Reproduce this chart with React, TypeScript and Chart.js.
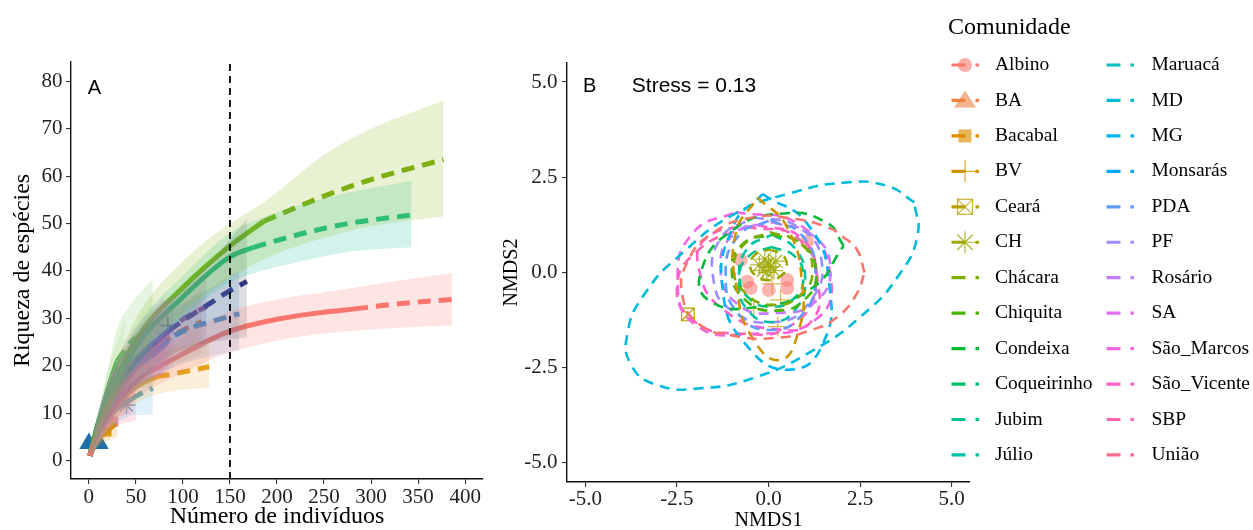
import React, { useEffect, useRef } from 'react';
import { Chart, registerables } from 'chart.js';
Chart.register(...registerables);

const SERIF = '"Liberation Serif", "Times New Roman", serif';
const SANS = '"Liberation Sans", Arial, sans-serif';

// ---------- shared categories ----------
const communities = ['Albino', 'BA', 'Bacabal', 'BV', 'Ceará', 'CH', 'Chácara', 'Chiquita', 'Condeixa', 'Coqueirinho', 'Jubim', 'Júlio',
  'Maruacá', 'MD', 'MG', 'Monsarás', 'PDA', 'PF', 'Rosário', 'SA', 'São_Marcos', 'São_Vicente', 'SBP', 'União'];
const legendShapes = ['circle', 'triangle', 'square', 'plus', 'boxx', 'asterisk'];
const legendTitle = 'Comunidade';

// ---------- panel A (rarefaction / extrapolation) ----------
const xTicksA = [0, 50, 100, 150, 200, 250, 300, 350, 400];
const yTicksA = [0, 10, 20, 30, 40, 50, 60, 70, 80];
const refLineX = 150;

const albX = [1, 10, 25, 50, 100, 150, 200, 250, 283, 330, 386];
const albY = [1, 6, 11, 16.5, 22.5, 27.3, 29.8, 31.3, 32, 33.1, 34];
const albLo = [1, 4, 8, 13, 18.5, 22.8, 25.3, 26.8, 27.4, 28, 28.5];
const albHi = [1, 8, 14, 20, 26.5, 31.5, 34, 35.5, 36.5, 38, 39.5];
const albObs = 283;

const chaX = [1, 10, 25, 50, 100, 150, 186, 250, 300, 377];
const chaY = [1, 7, 15, 25.5, 36.5, 45.3, 50.5, 55.8, 59.3, 63.5];
const chaLo = [1, 5, 12, 21, 31, 38.5, 42.5, 47, 49.5, 51.5];
const chaHi = [1, 9, 18, 30, 42, 50, 54.5, 64.5, 70, 76];
const chaObs = 186;

const coqX = [1, 10, 25, 50, 100, 150, 175, 225, 275, 343];
const coqY = [1, 7, 14.5, 24, 34.5, 43, 45, 47.8, 50, 51.8];
const coqLo = [1, 5, 11.5, 20, 30, 37.5, 39.5, 42, 44, 45];
const coqHi = [1, 9, 17.5, 28, 39, 48, 50.5, 54, 56.5, 59];
const coqObs = 175;

const navX = [1, 10, 25, 50, 85, 110, 130, 147, 168];
const navY = [1, 7, 14, 21, 27.5, 30.8, 33.3, 35.5, 37.8];
const navLo = [1, 5, 10, 16, 22, 24, 25, 25.5, 26];
const navHi = [1, 9, 18, 26, 33, 38, 42, 46, 51];
const navObs = 85;

const lbX = [1, 10, 25, 50, 75, 88, 109, 130, 160];
const lbY = [1, 6.5, 13, 19.5, 23.3, 25.9, 28, 29.3, 31];
const lbLo = [1, 4, 9, 15, 18, 19.5, 21, 22, 23.3];
const lbHi = [1, 9, 17, 24, 29, 31.5, 34, 36.5, 40];
const lbObs = 75;

const puX = [1, 10, 25, 50, 80, 100, 125];
const puY = [1, 7, 14, 21, 26.5, 29.8, 32.5];
const puLo = [1, 4.5, 10, 16, 20, 22, 24];
const puHi = [1, 9.5, 18, 26, 33, 36, 40];
const puObs = 80;

const orX = [1, 10, 25, 50, 72, 93, 128];
const orY = [1, 5.5, 10.5, 15.5, 17.7, 18.4, 19.8];
const orLo = [1, 3.5, 7.5, 12, 14, 14.8, 15.3];
const orHi = [1, 7.5, 13.5, 19.5, 22, 24, 25.4];
const orObs = 72;

const ruX = [1, 10, 25, 50, 75, 100, 120];
const ruY = [1, 6, 12.5, 19.5, 24.5, 27.5, 29.3];
const ruLo = [1, 4, 9, 15, 19, 21, 22.5];
const ruHi = [1, 8, 16, 24, 30, 33.5, 36];
const ruObs = 75;

const tlX = [1, 10, 25, 45, 55, 68];
const tlY = [1, 5, 10, 13, 14.1, 15.2];
const tlLo = [1, 3, 7, 9.5, 9.6, 9.7];
const tlHi = [1, 7, 13, 16.5, 18, 20];
const tlObs = 45;

const gsX = [1, 10, 20, 30, 45, 68];
const gsY = [1, 8, 15, 21, 25, 28.5];
const gsLo = [1, 6, 11, 14, 15, 15.5];
const gsHi = [1, 10, 19, 28, 33, 38.5];
const gsObs = 30;

const lgX = [1, 10, 20, 30, 38];
const lgY = [1, 8, 14.5, 18.5, 21];
const lgLo = [1, 6, 10, 12, 13];
const lgHi = [1, 10, 19, 25, 30];
const lgObs = 20;

const smX = [1, 10, 25, 45, 65, 75, 85];
const smY = [1, 7, 14, 20, 24, 25.3, 26.5];
const smLo = [1, 4.5, 9.5, 14, 17, 18, 19];
const smHi = [1, 9.5, 19, 26, 31, 33, 34.5];
const smObs = 65;

const saX = [1, 10, 25, 40, 60, 70, 80];
const saY = [1, 7.5, 14.5, 19.5, 23.5, 25, 26.3];
const saLo = [1, 5, 10, 14, 17, 17.5, 18];
const saHi = [1, 10, 19, 25.5, 30.5, 32.5, 34.5];
const saObs = 60;

const unX = [1, 8, 20, 30, 40, 50];
const unY = [1, 5, 9, 11, 12.5, 13.7];
const unLo = [1, 3, 6, 7.5, 8, 8.5];
const unHi = [1, 7, 12, 15, 17, 19];
const unObs = 30;

const sbX = [1, 10, 20, 28, 36, 45];
const sbY = [1, 6, 10.5, 13, 14.3, 15.5];
const sbLo = [1, 4, 7, 9, 9.5, 10];
const sbHi = [1, 8, 14, 17, 19, 21.5];
const sbObs = 28;

const roX = [1, 10, 25, 50, 70, 80, 90];
const roY = [1, 7, 14, 21, 25, 26.3, 27.3];
const roLo = [1, 4.5, 9.5, 15.5, 18.5, 19, 19.5];
const roHi = [1, 9.5, 18.5, 26.5, 31.5, 33.5, 35];
const roObs = 70;

const bcX = [1, 8, 18, 24, 30];
const bcY = [1, 4, 6, 7, 8];
const bcLo = [1, 2.5, 4, 4.5, 5];
const bcHi = [1, 5.5, 8, 9.5, 11];
const bcObs = 18;

const triA = [[0, 3.6], [11, 3.6]];
const plusA = [[84, 28.5]];
const starA = [[40, 11.7]];
const orangeSqA = [[18.8, 6.1]];
const pinkSqA = [[26, 8.2]];
const pinkXA = [[76, 26.5]];

// ---------- panel B (NMDS) ----------
const nmdsTicks = [-5, -2.5, 0, 2.5, 5];
const stressLabel = 'Stress = 0.13';

const ellAlbino = [[2.62, 0.0], [2.42, 0.59], [2.04, 0.93], [1.6, 1.19], [0.6, 1.42], [-0.4, 1.45], [-1.5, 1.05], [-2.2, 0.3], [-2.35, -0.6],
  [-1.9, -1.35], [-1.0, -1.65], [0.15, -1.72], [1.2, -1.5], [1.9, -1.15], [2.42, -0.54]];
const ellBV = [[-0.3, 1.97], [0.5, 1.2], [0.92, -0.3], [0.8, -1.6], [0.3, -2.3], [-0.45, -1.7], [-0.85, -0.5], [-0.9, 1.0]];
const ellCH = [[0, 0.6], [0.35, 0.48], [0.5, 0.2], [0.35, -0.08], [0, -0.2], [-0.35, -0.08], [-0.5, 0.2], [-0.35, 0.48]];
const ellChacara = [[0.05, 1.06], [0.87, 0.77], [1.2, 0.07], [0.87, -0.59], [0.11, -0.85], [-0.63, -0.54], [-0.95, 0.12], [-0.63, 0.77]];
const ellChiquita = [[0.1, 1.0], [0.9, 0.75], [1.3, 0.0], [1.0, -0.7], [0.2, -1.0], [-0.6, -0.75], [-1.0, 0.0], [-0.7, 0.75]];
const ellCondeixa = [[2.05, 0.7], [1.6, 1.3], [0.4, 1.55], [-1.0, 1.1], [-1.85, 0.0], [-1.6, -0.75], [-0.3, -0.9], [1.2, -0.4]];
const ellJubim = [[0.08, 0.67], [0.71, 0.43], [0.95, -0.12], [0.71, -0.67], [0.08, -0.9], [-0.54, -0.67], [-0.79, -0.12], [-0.54, 0.43]];
const ellJulio = [[0.1, 1.0], [0.75, 0.6], [1.0, -0.2], [0.75, -0.95], [0.1, -1.3], [-0.6, -0.95], [-0.8, -0.2], [-0.6, 0.6]];
const ellMD = [[3.98, 1.84], [3.25, 2.27], [2.08, 2.36], [0.6, 2.08], [-0.9, 1.55], [-2.34, 0.52], [-3.38, -0.56], [-3.85, -1.6],
  [-3.74, -2.44], [-3.05, -2.95], [-1.86, -3.04], [-0.38, -2.76], [1.17, -2.07], [2.56, -1.12], [3.58, -0.04], [4.07, 0.99]];
const ellMG = [[-0.16, 2.06], [1.09, 1.24], [1.66, -0.33], [1.47, -1.9], [0.6, -2.55], [-0.54, -1.98], [-1.25, -0.46], [-0.95, 1.24]];
const ellPDA = [[0.05, 1.38], [0.93, 0.96], [1.28, -0.07], [0.93, -1.09], [0.05, -1.51], [-0.82, -1.09], [-1.17, -0.07], [-0.82, 0.96]];
const ellPF = [[-0.4, 1.45], [0.8, 1.2], [1.45, 0.3], [1.1, -0.8], [0.2, -1.3], [-1.0, -1.0], [-1.5, -0.2], [-1.3, 0.9]];
const ellRosario = [[0.11, 1.32], [1.2, 0.98], [1.69, 0.12], [1.28, -0.77], [0.27, -1.06], [-0.82, -0.85], [-1.31, 0.12], [-0.9, 1.04]];
const ellSaoMarcos = [[-0.9, 1.59], [0.87, 1.24], [1.69, -0.07], [1.28, -1.24], [-0.49, -1.61], [-1.99, -1.38], [-2.48, -0.2], [-2.04, 1.06]];
const ellSaoVicente = [[-0.3, 1.25], [0.9, 0.9], [1.34, -0.2], [1.2, -1.25], [0.3, -1.5], [-1.2, -1.0], [-1.9, 0.1], [-1.66, 0.93]];
const ellSBP = [[-0.6, 1.2], [0.8, 0.9], [1.3, -0.3], [0.6, -1.4], [-0.8, -1.6], [-2.0, -1.3], [-2.5, -0.4], [-1.9, 0.6]];

const albinoPtsB = [[1.05, 0.81], [0.51, -0.2], [0.51, -0.41], [0.01, -0.46], [-0.58, -0.24], [-0.76, 0.33], [-0.49, -0.41]];
const bvPtsB = [[-0.4, -0.95], [0.25, -1.42], [0.33, -0.72], [0.1, -0.3]];
const chPtsB = [[-0.25, 0.2], [-0.1, 0.35], [0.05, 0.15], [0.2, 0.3], [-0.05, 0.0], [0.15, 0.05], [0.0, 0.25], [-0.15, 0.05]];
const cearaPtsB = [[-2.2, -1.1]];

// ---------- colour helpers ----------
function hclHex(h: number, c = 100, l = 65): string {
  const hr = (h * Math.PI) / 180;
  const U = c * Math.cos(hr), V = c * Math.sin(hr);
  const Xn = 95.047, Yn = 100, Zn = 108.883;
  const Y = Yn * Math.pow((l + 16) / 116, 3);
  const den = Xn + 15 * Yn + 3 * Zn;
  const un = (4 * Xn) / den, vn = (9 * Yn) / den;
  const up = U / (13 * l) + un, vp = V / (13 * l) + vn;
  const X = (9 * Y * up) / (4 * vp);
  const Z = -X / 3 - 5 * Y + (3 * Y) / vp;
  const x = X / 100, y = Y / 100, z = Z / 100;
  const lin = [3.240479 * x - 1.53715 * y - 0.498535 * z, -0.969256 * x + 1.875992 * y + 0.041556 * z, 0.055648 * x - 0.204043 * y + 1.057311 * z];
  return '#' + lin.map((v) => {
    const g = v <= 0.0031308 ? 12.92 * v : 1.055 * Math.pow(v, 1 / 2.4) - 0.055;
    return Math.round(255 * Math.min(1, Math.max(0, g))).toString(16).padStart(2, '0');
  }).join('');
}
const palette = communities.map((_, i) => hclHex(15 + 15 * i));
const pal = (name: string) => palette[communities.indexOf(name)];
function rgba(hex: string, a: number) {
  const n = parseInt(hex.slice(1), 16);
  return `rgba(${(n >> 16) & 255},${(n >> 8) & 255},${n & 255},${a})`;
}
const toPts = (arr: number[][]) => arr.map(([x, y]) => ({ x, y }));

// ---------- panel A datasets ----------
const curvesA = [
  { color: pal('Albino'), band: pal('Albino'), x: albX, y: albY, lo: albLo, hi: albHi, obs: albObs },
  { color: '#7AAD0C', band: '#8DBA1E', x: chaX, y: chaY, lo: chaLo, hi: chaHi, obs: chaObs },
  { color: '#17BC86', band: '#1CC49A', x: coqX, y: coqY, lo: coqLo, hi: coqHi, obs: coqObs },
  { color: '#2B2E8A', band: '#55586A', x: navX, y: navY, lo: navLo, hi: navHi, obs: navObs },
  { color: '#3B9AD8', band: '#4A8FD8', x: lbX, y: lbY, lo: lbLo, hi: lbHi, obs: lbObs },
  { color: '#8A4B9E', band: '#9B6BB8', x: puX, y: puY, lo: puLo, hi: puHi, obs: puObs },
  { color: '#E5A00F', band: '#F0B040', x: orX, y: orY, lo: orLo, hi: orHi, obs: orObs },
  { color: '#D9804A', band: '#E09070', x: ruX, y: ruY, lo: ruLo, hi: ruHi, obs: ruObs },
  { color: '#3BA9B8', band: '#5AB4E0', x: tlX, y: tlY, lo: tlLo, hi: tlHi, obs: tlObs },
  { color: '#2FB04A', band: '#7CCB6A', x: gsX, y: gsY, lo: gsLo, hi: gsHi, obs: gsObs },
  { color: '#7CC04A', band: '#A8D870', x: lgX, y: lgY, lo: lgLo, hi: lgHi, obs: lgObs },
  { color: pal('São_Marcos'), band: pal('São_Marcos'), x: smX, y: smY, lo: smLo, hi: smHi, obs: smObs },
  { color: pal('SA'), band: pal('SA'), x: saX, y: saY, lo: saLo, hi: saHi, obs: saObs },
  { color: pal('União'), band: pal('União'), x: unX, y: unY, lo: unLo, hi: unHi, obs: unObs },
  { color: pal('SBP'), band: pal('SBP'), x: sbX, y: sbY, lo: sbLo, hi: sbHi, obs: sbObs },
  { color: pal('Rosário'), band: pal('Rosário'), x: roX, y: roY, lo: roLo, hi: roHi, obs: roObs },
  { color: pal('Bacabal'), band: pal('Bacabal'), x: bcX, y: bcY, lo: bcLo, hi: bcHi, obs: bcObs },
];

function buildDatasetsA() {
  const ds: any[] = [];
  curvesA.forEach((c) => {
    const pts = c.x.map((x, i) => ({ x, y: c.y[i] }));
    ds.push({ data: c.x.map((x, i) => ({ x, y: c.hi[i] })), borderColor: 'transparent', borderWidth: 0, pointRadius: 0,
      fill: '+1', backgroundColor: rgba(c.band, 0.2), order: 1, cubicInterpolationMode: 'monotone' });
    ds.push({ data: c.x.map((x, i) => ({ x, y: c.lo[i] })), borderColor: 'transparent', borderWidth: 0, pointRadius: 0,
      fill: false, order: 1, cubicInterpolationMode: 'monotone' });
    ds.push({ data: pts.filter((p) => p.x <= c.obs), borderColor: c.color, borderWidth: 5, pointRadius: 0, fill: false,
      order: 2, cubicInterpolationMode: 'monotone' });
    ds.push({ data: pts.filter((p) => p.x >= c.obs), borderColor: c.color, borderWidth: 5, borderDash: [13, 8], pointRadius: 0,
      fill: false, order: 2, cubicInterpolationMode: 'monotone' });
  });
  const mk = (arr: number[][], style: string, r: number, fillC: string, lineC: string, bw: number) => ({
    data: toPts(arr), showLine: false, pointStyle: style, pointRadius: r, pointBackgroundColor: fillC,
    pointBorderColor: lineC, pointBorderWidth: bw, order: 3,
  });
  ds.push(mk(triA, 'triangle', 11, '#1F6EAA', '#1F6EAA', 0));
  ds.push(mk(plusA, 'cross', 9, 'transparent', '#3A2A6A', 1.5));
  ds.push(mk(starA, 'star', 9, 'transparent', '#5DA5DA', 1.5));
  ds.push(mk(orangeSqA, 'rect', 7, '#E69F00', '#E69F00', 0));
  ds.push(mk(pinkSqA, 'rect', 7, '#E88FB8', '#E88FB8', 0));
  ds.push(mk(pinkXA, 'crossRot', 6, 'transparent', '#D070C0', 1.5));
  ds.push({ data: [{ x: refLineX, y: -3.9 }, { x: refLineX, y: 84.1 }], borderColor: '#000', borderWidth: 1.8,
    borderDash: [7, 5], pointRadius: 0, fill: false, order: 0 });
  return ds;
}

// ---------- panel B datasets ----------
const ellipsesB = [
  { name: 'Albino', pts: ellAlbino }, { name: 'BV', pts: ellBV }, { name: 'CH', pts: ellCH }, { name: 'Chácara', pts: ellChacara },
  { name: 'Chiquita', pts: ellChiquita }, { name: 'Condeixa', pts: ellCondeixa }, { name: 'Jubim', pts: ellJubim },
  { name: 'Júlio', pts: ellJulio }, { name: 'MD', pts: ellMD }, { name: 'MG', pts: ellMG }, { name: 'PDA', pts: ellPDA },
  { name: 'PF', pts: ellPF }, { name: 'Rosário', pts: ellRosario }, { name: 'São_Marcos', pts: ellSaoMarcos },
  { name: 'São_Vicente', pts: ellSaoVicente }, { name: 'SBP', pts: ellSBP },
];

function buildDatasetsB() {
  const ds: any[] = ellipsesB.map((e) => ({
    data: toPts([...e.pts, e.pts[0]]), borderColor: pal(e.name), borderWidth: 2.6, borderDash: [10, 7], tension: 0.5,
    pointRadius: 0, fill: false, order: 2,
  }));
  const mk = (arr: number[][], style: string, r: number, fillC: string, lineC: string, bw: number) => ({
    data: toPts(arr), showLine: false, pointStyle: style, pointRadius: r, pointBackgroundColor: fillC,
    pointBorderColor: lineC, pointBorderWidth: bw, order: 3,
  });
  ds.push(mk(albinoPtsB, 'circle', 7, rgba(pal('Albino'), 0.55), 'transparent', 0));
  ds.push(mk(bvPtsB, 'cross', 10, 'transparent', rgba(pal('BV'), 0.7), 1.2));
  ds.push(mk(chPtsB, 'star', 9, 'transparent', rgba(pal('CH'), 0.8), 1.2));
  ds.push(mk(cearaPtsB, 'rect', 9, 'transparent', pal('Ceará'), 1.2));
  ds.push(mk(cearaPtsB, 'crossRot', 9, 'transparent', pal('Ceará'), 1.2));
  return ds;
}

// ---------- scale helpers ----------
function axis(min: number, max: number, ticks: number[], fmt: (v: number) => string, size: number, title: string,
  titleSize: number, titlePad: any, tickPad: number, fit: (s: any) => void) {
  return {
    type: 'linear', min, max,
    afterBuildTicks: (s: any) => { s.ticks = ticks.map((v) => ({ value: v })); },
    afterFit: fit,
    ticks: { font: { family: SERIF, size }, color: '#222', padding: tickPad, maxRotation: 0, autoSkip: false,
      callback: (v: any) => fmt(Number(v)) },
    grid: { display: true, drawOnChartArea: false, drawTicks: true, tickLength: 5, color: '#333', lineWidth: 1.1 },
    border: { display: true, color: '#111', width: 1.4 },
    title: { display: true, text: title, font: { family: SERIF, size: titleSize, lineHeight: 1.2 }, color: '#000', padding: titlePad },
  };
}

const tagPluginA = {
  id: 'tagA',
  afterDatasetsDraw(chart: any) {
    const { ctx, scales } = chart;
    ctx.save();
    ctx.font = `20px ${SANS}`;
    ctx.fillStyle = '#000';
    ctx.textAlign = 'center';
    ctx.textBaseline = 'middle';
    ctx.fillText('A', scales.x.getPixelForValue(5.9), scales.y.getPixelForValue(78.6));
    ctx.restore();
  },
};

function drawKeyShape(ctx: CanvasRenderingContext2D, shape: string, x: number, y: number, color: string) {
  ctx.save();
  ctx.setLineDash([]);
  if (shape === 'circle') {
    ctx.fillStyle = rgba(color, 0.6);
    ctx.beginPath(); ctx.arc(x, y, 7, 0, Math.PI * 2); ctx.fill();
  } else if (shape === 'triangle') {
    ctx.fillStyle = rgba(color, 0.6);
    ctx.beginPath(); ctx.moveTo(x, y - 10); ctx.lineTo(x - 11, y + 7); ctx.lineTo(x + 11, y + 7); ctx.closePath(); ctx.fill();
  } else if (shape === 'square') {
    ctx.fillStyle = rgba(color, 0.65);
    ctx.fillRect(x - 6.5, y - 6.5, 13, 13);
  } else if (shape === 'plus') {
    ctx.strokeStyle = rgba(color, 0.8); ctx.lineWidth = 1.2;
    ctx.beginPath(); ctx.moveTo(x - 11, y); ctx.lineTo(x + 11, y); ctx.moveTo(x, y - 11); ctx.lineTo(x, y + 11); ctx.stroke();
  } else if (shape === 'boxx') {
    ctx.strokeStyle = rgba(color, 0.8); ctx.lineWidth = 1.2;
    ctx.strokeRect(x - 7.5, y - 7.5, 15, 15);
    ctx.beginPath(); ctx.moveTo(x - 7.5, y - 7.5); ctx.lineTo(x + 7.5, y + 7.5); ctx.moveTo(x + 7.5, y - 7.5); ctx.lineTo(x - 7.5, y + 7.5); ctx.stroke();
  } else if (shape === 'asterisk') {
    ctx.strokeStyle = rgba(color, 0.8); ctx.lineWidth = 1.2;
    ctx.beginPath();
    for (let k = 0; k < 4; k++) {
      const a = (k * Math.PI) / 4;
      ctx.moveTo(x - 11 * Math.cos(a), y - 11 * Math.sin(a));
      ctx.lineTo(x + 11 * Math.cos(a), y + 11 * Math.sin(a));
    }
    ctx.stroke();
  }
  ctx.restore();
}

const legendPluginB = {
  id: 'legendB',
  afterDraw(chart: any) {
    const { ctx, scales } = chart;
    ctx.save();
    ctx.font = `20px ${SANS}`;
    ctx.fillStyle = '#000';
    ctx.textBaseline = 'middle';
    ctx.textAlign = 'center';
    ctx.fillText('B', scales.x.getPixelForValue(-4.88), scales.y.getPixelForValue(4.89));
    ctx.textAlign = 'left';
    ctx.font = `21px ${SANS}`;
    ctx.fillText(stressLabel, scales.x.getPixelForValue(-3.73), scales.y.getPixelForValue(4.89));
    ctx.textBaseline = 'alphabetic';
    ctx.font = `24px ${SERIF}`;
    ctx.fillText(legendTitle, 448, 34);
    communities.forEach((name, i) => {
      const col = Math.floor(i / 12), row = i % 12;
      const y = 65 + row * 35.45;
      const kx = col === 0 ? 451.5 : 606.5;
      const lx = col === 0 ? 495 : 651.5;
      ctx.strokeStyle = palette[i];
      ctx.lineWidth = 3.2;
      ctx.setLineDash([14, 10]);
      ctx.beginPath(); ctx.moveTo(kx, y); ctx.lineTo(kx + 27.5, y); ctx.stroke();
      ctx.setLineDash([]);
      if (legendShapes[i]) drawKeyShape(ctx, legendShapes[i], kx + 13.5, y, palette[i]);
      ctx.fillStyle = '#000';
      ctx.font = `19.5px ${SERIF}`;
      ctx.textBaseline = 'middle';
      ctx.fillText(name, lx, y);
    });
    ctx.restore();
  },
};

function configA(): any {
  return {
    type: 'line',
    data: { datasets: buildDatasetsA() },
    plugins: [tagPluginA],
    options: {
      responsive: false, animation: false, events: [],
      layout: { padding: { left: 0, top: 62, right: 17, bottom: 0 } },
      plugins: { legend: { display: false }, tooltip: { enabled: false } },
      scales: {
        x: axis(-19, 419, xTicksA, (v) => String(v), 21, 'Número de indivíduos', 24, { top: 0, bottom: -1 }, 1,
          (s: any) => { s.height = 51; }),
        y: axis(-3.9, 84.1, yTicksA, (v) => String(v), 21, 'Riqueza de espécies', 24, { top: 8.6, bottom: 0 }, 3.5,
          (s: any) => { s.width = 71; }),
      },
    },
  };
}

function configB(): any {
  return {
    type: 'line',
    data: { datasets: buildDatasetsB() },
    plugins: [legendPluginB],
    options: {
      responsive: false, animation: false, events: [],
      layout: { padding: { left: 0, top: 63, right: 283, bottom: 0 } },
      plugins: { legend: { display: false }, tooltip: { enabled: false } },
      scales: {
        x: axis(-5.5, 5.5, nmdsTicks, (v) => v.toFixed(1), 21, 'NMDS1', 20, { top: 0, bottom: -3 }, 0,
          (s: any) => { s.height = 48; }),
        y: axis(-5.5, 5.5, nmdsTicks, (v) => v.toFixed(1), 21, 'NMDS2', 20, { top: 0, bottom: 0 }, 4.4,
          (s: any) => { s.width = 67; }),
      },
    },
  };
}

export default function App() {
  const refA = useRef<HTMLCanvasElement>(null);
  const refB = useRef<HTMLCanvasElement>(null);
  useEffect(() => {
    const a = new Chart(refA.current as HTMLCanvasElement, configA());
    const b = new Chart(refB.current as HTMLCanvasElement, configB());
    return () => { a.destroy(); b.destroy(); };
  }, []);
  return (
    <div style={{ position: 'fixed', left: 0, top: 0, width: 1253, height: 530, background: '#fff', overflow: 'hidden' }}>
      <canvas ref={refA} width={500} height={530} style={{ position: 'absolute', left: 0, top: 0, width: 500, height: 530 }} />
      <canvas ref={refB} width={753} height={530} style={{ position: 'absolute', left: 500, top: 0, width: 753, height: 530 }} />
    </div>
  );
}
